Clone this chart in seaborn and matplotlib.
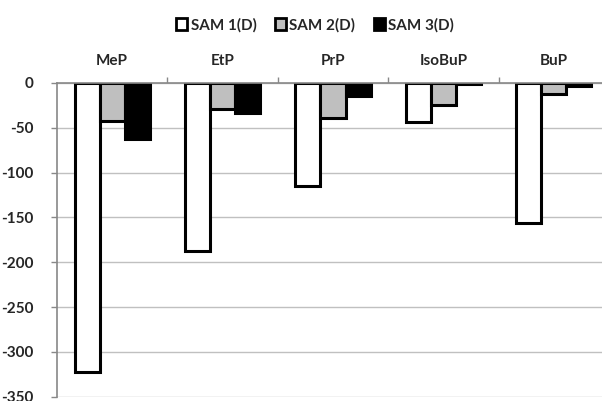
import matplotlib
matplotlib.use("Agg")
import matplotlib.pyplot as plt
import seaborn as sns
import pandas as pd
from matplotlib.patches import Patch

categories = ["MeP", "EtP", "PrP", "IsoBuP", "BuP"]
series = ["SAM 1(D)", "SAM 2(D)", "SAM 3(D)"]
sam1 = [-322, -187, -115, -43, -156]
sam2 = [-42, -29, -39, -24, -12]
sam3 = [-63, -34, -15, -1, -3]
colors = ["#FFFFFF", "#BFBFBF", "#000000"]
yticks = [0, -50, -100, -150, -200, -250, -300, -350]

rows = []
for name, vals in zip(series, [sam1, sam2, sam3]):
    for c, v in zip(categories, vals):
        rows.append({"cat": c, "series": name, "value": v})
df = pd.DataFrame(rows)

sns.set_style("white")
plt.rcParams["font.family"] = ["Lato", "DejaVu Sans"]
plt.rcParams["font.weight"] = "bold"

fig = plt.figure(figsize=(6.02, 4.01), dpi=100)
ax = fig.add_axes([57 / 602, 1 - 396.7 / 401, 552 / 602, (396.7 - 83) / 401])

sns.barplot(data=df, x="cat", y="value", hue="series", order=categories,
            hue_order=series, palette=colors, width=0.68, gap=0,
            edgecolor="black", linewidth=2.2, saturation=1, ax=ax,
            legend=False)

ax.set_ylim(-350, 0)
ax.set_xlim(-0.5, len(categories) - 0.5)
ax.set_yticks(yticks)
ax.set_yticklabels([str(t) for t in yticks], fontsize=11, fontweight="bold")
ax.yaxis.grid(True, color="#C0C0C0", linewidth=1)
ax.set_axisbelow(True)

ax.xaxis.tick_top()
ax.set_xticks(range(len(categories)))
ax.set_xticklabels(categories, fontsize=11, fontweight="bold")
ax.set_xticks([i + 0.5 for i in range(len(categories))], minor=True)
ax.tick_params(axis="x", which="major", length=0, pad=11)
ax.tick_params(axis="x", which="minor", length=4, color="#888888", width=1,
               top=True, bottom=False, direction="out")
ax.tick_params(axis="y", length=4, color="#888888", width=1, left=True,
               direction="out", pad=13)
ax.set_xlabel("")
ax.set_ylabel("")

for s in ["right", "bottom"]:
    ax.spines[s].set_visible(False)
for s in ["top", "left"]:
    ax.spines[s].set_color("#888888")
    ax.spines[s].set_linewidth(1.2)

handles = [Patch(facecolor=c, edgecolor="black", linewidth=2) for c in colors]
fig.legend(handles, series, loc="center", bbox_to_anchor=(315 / 602, 1 - 25 / 401),
           ncol=3, frameon=False, handlelength=0.75, handleheight=0.75,
           handletextpad=0.2, columnspacing=1.2,
           prop={"size": 11, "weight": "bold"})

fig.savefig("out.png", dpi=100)
